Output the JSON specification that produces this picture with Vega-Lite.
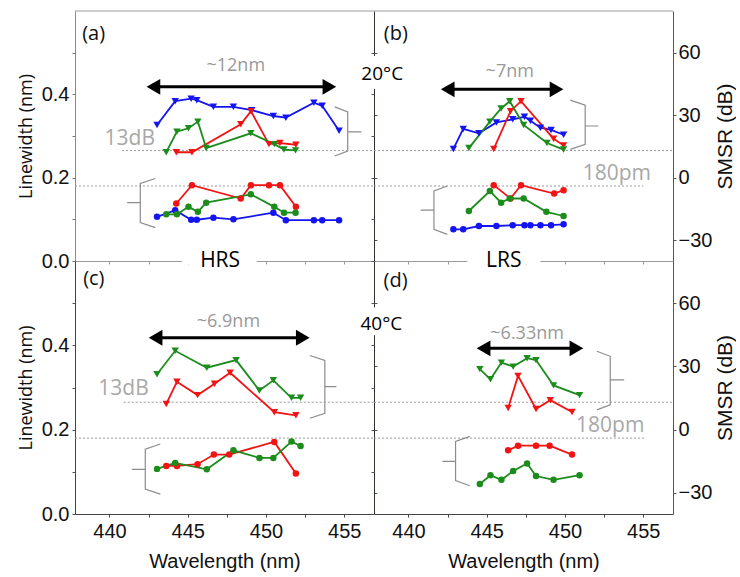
{
 "$schema": "https://vega.github.io/schema/vega-lite/v6.json",
 "padding": {"left": 17, "top": 10, "right": 0, "bottom": 2},
 "background": "white",
 "config": {
  "view": {"stroke": null},
  "axis": {"grid": false, "labelFont": "Liberation Sans", "labelFontSize": 20, "labelColor": "#111", "titleColor": "#111", "titleFontWeight": "normal", "labelFlush": false, "labelOverlap": false},
  "text": {"font": "Open Sans"}
 },
 "datasets": {
  "pts": [
   {"p":"a","k":"SMSR","s":"blue","x":443.04,"v":25.3},{"p":"a","k":"SMSR","s":"blue","x":444.20,"v":36.7},{"p":"a","k":"SMSR","s":"blue","x":445.22,"v":37.9},{"p":"a","k":"SMSR","s":"blue","x":445.58,"v":37.2},{"p":"a","k":"SMSR","s":"blue","x":446.64,"v":34.0},{"p":"a","k":"SMSR","s":"blue","x":447.92,"v":34.0},{"p":"a","k":"SMSR","s":"blue","x":449.09,"v":32.4},{"p":"a","k":"SMSR","s":"blue","x":450.47,"v":29.6},{"p":"a","k":"SMSR","s":"blue","x":451.27,"v":28.8},{"p":"a","k":"SMSR","s":"blue","x":453.06,"v":36.0},{"p":"a","k":"SMSR","s":"blue","x":453.59,"v":34.5},{"p":"a","k":"SMSR","s":"blue","x":454.67,"v":22.5},
   {"p":"a","k":"SMSR","s":"red","x":444.27,"v":12.2},{"p":"a","k":"SMSR","s":"red","x":445.27,"v":12.2},{"p":"a","k":"SMSR","s":"red","x":448.39,"v":25.6},{"p":"a","k":"SMSR","s":"red","x":449.04,"v":31.9},{"p":"a","k":"SMSR","s":"red","x":450.19,"v":16.1},{"p":"a","k":"SMSR","s":"red","x":450.89,"v":16.6},{"p":"a","k":"SMSR","s":"red","x":451.91,"v":15.8},
   {"p":"a","k":"SMSR","s":"green","x":443.63,"v":12.2},{"p":"a","k":"SMSR","s":"green","x":444.31,"v":22.1},{"p":"a","k":"SMSR","s":"green","x":445.05,"v":23.7},{"p":"a","k":"SMSR","s":"green","x":445.65,"v":26.9},{"p":"a","k":"SMSR","s":"green","x":446.18,"v":14.2},{"p":"a","k":"SMSR","s":"green","x":449.03,"v":21.3},{"p":"a","k":"SMSR","s":"green","x":450.53,"v":16.1},{"p":"a","k":"SMSR","s":"green","x":451.15,"v":13.5},{"p":"a","k":"SMSR","s":"green","x":451.89,"v":13.1},
   {"p":"a","k":"LW","s":"blue","x":443.04,"v":0.106},{"p":"a","k":"LW","s":"blue","x":444.20,"v":0.122},{"p":"a","k":"LW","s":"blue","x":445.22,"v":0.099},{"p":"a","k":"LW","s":"blue","x":445.58,"v":0.099},{"p":"a","k":"LW","s":"blue","x":446.64,"v":0.104},{"p":"a","k":"LW","s":"blue","x":447.92,"v":0.100},{"p":"a","k":"LW","s":"blue","x":450.47,"v":0.116},{"p":"a","k":"LW","s":"blue","x":451.27,"v":0.098},{"p":"a","k":"LW","s":"blue","x":453.06,"v":0.098},{"p":"a","k":"LW","s":"blue","x":453.59,"v":0.098},{"p":"a","k":"LW","s":"blue","x":454.67,"v":0.098},
   {"p":"a","k":"LW","s":"red","x":444.27,"v":0.138},{"p":"a","k":"LW","s":"red","x":445.27,"v":0.182},{"p":"a","k":"LW","s":"red","x":448.39,"v":0.150},{"p":"a","k":"LW","s":"red","x":449.04,"v":0.182},{"p":"a","k":"LW","s":"red","x":450.19,"v":0.182},{"p":"a","k":"LW","s":"red","x":450.89,"v":0.182},{"p":"a","k":"LW","s":"red","x":451.91,"v":0.130},
   {"p":"a","k":"LW","s":"green","x":443.63,"v":0.112},{"p":"a","k":"LW","s":"green","x":444.31,"v":0.112},{"p":"a","k":"LW","s":"green","x":445.05,"v":0.130},{"p":"a","k":"LW","s":"green","x":445.65,"v":0.118},{"p":"a","k":"LW","s":"green","x":446.18,"v":0.140},{"p":"a","k":"LW","s":"green","x":449.03,"v":0.160},{"p":"a","k":"LW","s":"green","x":450.53,"v":0.130},{"p":"a","k":"LW","s":"green","x":451.15,"v":0.116},{"p":"a","k":"LW","s":"green","x":451.89,"v":0.116},
   {"p":"b","k":"SMSR","s":"blue","x":442.87,"v":13.8},{"p":"b","k":"SMSR","s":"blue","x":443.50,"v":23.4},{"p":"b","k":"SMSR","s":"blue","x":444.50,"v":21.3},{"p":"b","k":"SMSR","s":"blue","x":445.62,"v":26.5},{"p":"b","k":"SMSR","s":"blue","x":446.66,"v":28.0},{"p":"b","k":"SMSR","s":"blue","x":447.41,"v":29.2},{"p":"b","k":"SMSR","s":"blue","x":447.79,"v":27.3},{"p":"b","k":"SMSR","s":"blue","x":448.43,"v":24.0},{"p":"b","k":"SMSR","s":"blue","x":449.11,"v":22.9},{"p":"b","k":"SMSR","s":"blue","x":449.91,"v":20.6},
   {"p":"b","k":"SMSR","s":"red","x":445.45,"v":13.8},{"p":"b","k":"SMSR","s":"red","x":446.52,"v":31.9},{"p":"b","k":"SMSR","s":"red","x":447.19,"v":36.7},{"p":"b","k":"SMSR","s":"red","x":449.27,"v":18.7},{"p":"b","k":"SMSR","s":"red","x":449.91,"v":15.5},
   {"p":"b","k":"SMSR","s":"green","x":443.86,"v":14.2},{"p":"b","k":"SMSR","s":"green","x":445.20,"v":26.9},{"p":"b","k":"SMSR","s":"green","x":445.92,"v":33.2},{"p":"b","k":"SMSR","s":"green","x":446.47,"v":36.7},{"p":"b","k":"SMSR","s":"green","x":447.36,"v":25.3},{"p":"b","k":"SMSR","s":"green","x":448.85,"v":16.6},{"p":"b","k":"SMSR","s":"green","x":449.91,"v":13.5},
   {"p":"b","k":"LW","s":"blue","x":442.87,"v":0.076},{"p":"b","k":"LW","s":"blue","x":443.50,"v":0.076},{"p":"b","k":"LW","s":"blue","x":444.50,"v":0.084},{"p":"b","k":"LW","s":"blue","x":445.62,"v":0.084},{"p":"b","k":"LW","s":"blue","x":446.66,"v":0.086},{"p":"b","k":"LW","s":"blue","x":447.41,"v":0.086},{"p":"b","k":"LW","s":"blue","x":447.79,"v":0.086},{"p":"b","k":"LW","s":"blue","x":448.43,"v":0.086},{"p":"b","k":"LW","s":"blue","x":449.11,"v":0.086},{"p":"b","k":"LW","s":"blue","x":449.91,"v":0.088},
   {"p":"b","k":"LW","s":"red","x":445.45,"v":0.182},{"p":"b","k":"LW","s":"red","x":446.52,"v":0.150},{"p":"b","k":"LW","s":"red","x":447.19,"v":0.182},{"p":"b","k":"LW","s":"red","x":449.31,"v":0.162},{"p":"b","k":"LW","s":"red","x":449.91,"v":0.170},
   {"p":"b","k":"LW","s":"green","x":443.86,"v":0.120},{"p":"b","k":"LW","s":"green","x":445.20,"v":0.168},{"p":"b","k":"LW","s":"green","x":445.92,"v":0.140},{"p":"b","k":"LW","s":"green","x":446.47,"v":0.150},{"p":"b","k":"LW","s":"green","x":447.36,"v":0.150},{"p":"b","k":"LW","s":"green","x":448.81,"v":0.118},{"p":"b","k":"LW","s":"green","x":449.91,"v":0.108},
   {"p":"c","k":"SMSR","s":"red","x":443.63,"v":12.2},{"p":"c","k":"SMSR","s":"red","x":444.31,"v":22.7},{"p":"c","k":"SMSR","s":"red","x":445.63,"v":16.4},{"p":"c","k":"SMSR","s":"red","x":446.71,"v":21.8},{"p":"c","k":"SMSR","s":"red","x":447.71,"v":27.0},{"p":"c","k":"SMSR","s":"red","x":450.53,"v":8.3},{"p":"c","k":"SMSR","s":"red","x":451.91,"v":6.8},
   {"p":"c","k":"SMSR","s":"green","x":443.04,"v":26.3},{"p":"c","k":"SMSR","s":"green","x":444.20,"v":37.4},{"p":"c","k":"SMSR","s":"green","x":446.22,"v":29.4},{"p":"c","k":"SMSR","s":"green","x":448.09,"v":33.0},{"p":"c","k":"SMSR","s":"green","x":449.58,"v":18.6},{"p":"c","k":"SMSR","s":"green","x":450.47,"v":23.4},{"p":"c","k":"SMSR","s":"green","x":451.63,"v":15.1},{"p":"c","k":"SMSR","s":"green","x":452.21,"v":15.1},
   {"p":"c","k":"LW","s":"red","x":443.63,"v":0.114},{"p":"c","k":"LW","s":"red","x":444.31,"v":0.114},{"p":"c","k":"LW","s":"red","x":445.63,"v":0.118},{"p":"c","k":"LW","s":"red","x":446.67,"v":0.141},{"p":"c","k":"LW","s":"red","x":447.65,"v":0.141},{"p":"c","k":"LW","s":"red","x":450.53,"v":0.171},{"p":"c","k":"LW","s":"red","x":451.91,"v":0.096},
   {"p":"c","k":"LW","s":"green","x":443.04,"v":0.107},{"p":"c","k":"LW","s":"green","x":444.20,"v":0.121},{"p":"c","k":"LW","s":"green","x":446.22,"v":0.106},{"p":"c","k":"LW","s":"green","x":447.92,"v":0.151},{"p":"c","k":"LW","s":"green","x":449.58,"v":0.133},{"p":"c","k":"LW","s":"green","x":450.47,"v":0.133},{"p":"c","k":"LW","s":"green","x":451.63,"v":0.172},{"p":"c","k":"LW","s":"green","x":452.21,"v":0.161},
   {"p":"d","k":"SMSR","s":"red","x":446.37,"v":10.3},{"p":"d","k":"SMSR","s":"red","x":447.00,"v":25.5},{"p":"d","k":"SMSR","s":"red","x":448.15,"v":9.8},{"p":"d","k":"SMSR","s":"red","x":449.06,"v":14.0},{"p":"d","k":"SMSR","s":"red","x":450.45,"v":8.4},
   {"p":"d","k":"SMSR","s":"green","x":444.56,"v":28.7},{"p":"d","k":"SMSR","s":"green","x":445.24,"v":23.9},{"p":"d","k":"SMSR","s":"green","x":445.94,"v":31.8},{"p":"d","k":"SMSR","s":"green","x":446.69,"v":29.9},{"p":"d","k":"SMSR","s":"green","x":447.58,"v":33.9},{"p":"d","k":"SMSR","s":"green","x":448.15,"v":33.0},{"p":"d","k":"SMSR","s":"green","x":449.27,"v":21.0},{"p":"d","k":"SMSR","s":"green","x":450.93,"v":16.4},
   {"p":"d","k":"LW","s":"red","x":446.37,"v":0.151},{"p":"d","k":"LW","s":"red","x":447.00,"v":0.162},{"p":"d","k":"LW","s":"red","x":448.15,"v":0.162},{"p":"d","k":"LW","s":"red","x":449.02,"v":0.162},{"p":"d","k":"LW","s":"red","x":450.45,"v":0.141},
   {"p":"d","k":"LW","s":"green","x":444.56,"v":0.071},{"p":"d","k":"LW","s":"green","x":445.24,"v":0.092},{"p":"d","k":"LW","s":"green","x":445.94,"v":0.081},{"p":"d","k":"LW","s":"green","x":446.69,"v":0.102},{"p":"d","k":"LW","s":"green","x":447.58,"v":0.120},{"p":"d","k":"LW","s":"green","x":448.15,"v":0.090},{"p":"d","k":"LW","s":"green","x":449.27,"v":0.081},{"p":"d","k":"LW","s":"green","x":450.93,"v":0.092}
  ],
  "brk": [
   {"p":"a","side":"R","o":1,"x":454.39,"y":0.370},{"p":"a","side":"R","o":2,"x":455.22,"y":0.358},{"p":"a","side":"R","o":3,"x":455.22,"y":0.310},{"p":"a","side":"R","o":4,"x":456.10,"y":0.310},{"p":"a","side":"R","o":5,"x":455.22,"y":0.310},{"p":"a","side":"R","o":6,"x":455.22,"y":0.264},{"p":"a","side":"R","o":7,"x":454.39,"y":0.252},
   {"p":"a","side":"L","o":1,"x":442.93,"y":0.198},{"p":"a","side":"L","o":2,"x":441.97,"y":0.186},{"p":"a","side":"L","o":3,"x":441.97,"y":0.140},{"p":"a","side":"L","o":4,"x":441.13,"y":0.140},{"p":"a","side":"L","o":5,"x":441.97,"y":0.140},{"p":"a","side":"L","o":6,"x":441.97,"y":0.092},{"p":"a","side":"L","o":7,"x":442.93,"y":0.080},
   {"p":"b","side":"R","o":1,"x":450.34,"y":0.386},{"p":"b","side":"R","o":2,"x":451.29,"y":0.374},{"p":"b","side":"R","o":3,"x":451.29,"y":0.324},{"p":"b","side":"R","o":4,"x":452.14,"y":0.324},{"p":"b","side":"R","o":5,"x":451.29,"y":0.324},{"p":"b","side":"R","o":6,"x":451.29,"y":0.280},{"p":"b","side":"R","o":7,"x":450.34,"y":0.268},
   {"p":"b","side":"L","o":1,"x":442.48,"y":0.180},{"p":"b","side":"L","o":2,"x":441.63,"y":0.168},{"p":"b","side":"L","o":3,"x":441.63,"y":0.122},{"p":"b","side":"L","o":4,"x":440.78,"y":0.122},{"p":"b","side":"L","o":5,"x":441.63,"y":0.122},{"p":"b","side":"L","o":6,"x":441.63,"y":0.076},{"p":"b","side":"L","o":7,"x":442.48,"y":0.064},
   {"p":"c","side":"R","o":1,"x":452.80,"y":0.376},{"p":"c","side":"R","o":2,"x":453.76,"y":0.364},{"p":"c","side":"R","o":3,"x":453.76,"y":0.302},{"p":"c","side":"R","o":4,"x":454.50,"y":0.302},{"p":"c","side":"R","o":5,"x":453.76,"y":0.302},{"p":"c","side":"R","o":6,"x":453.76,"y":0.239},{"p":"c","side":"R","o":7,"x":452.80,"y":0.227},
   {"p":"c","side":"L","o":1,"x":443.25,"y":0.166},{"p":"c","side":"L","o":2,"x":442.29,"y":0.154},{"p":"c","side":"L","o":3,"x":442.29,"y":0.106},{"p":"c","side":"L","o":4,"x":441.45,"y":0.106},{"p":"c","side":"L","o":5,"x":442.29,"y":0.106},{"p":"c","side":"L","o":6,"x":442.29,"y":0.059},{"p":"c","side":"L","o":7,"x":443.25,"y":0.047},
   {"p":"d","side":"R","o":1,"x":452.04,"y":0.386},{"p":"d","side":"R","o":2,"x":452.89,"y":0.374},{"p":"d","side":"R","o":3,"x":452.89,"y":0.318},{"p":"d","side":"R","o":4,"x":453.78,"y":0.318},{"p":"d","side":"R","o":5,"x":452.89,"y":0.318},{"p":"d","side":"R","o":6,"x":452.89,"y":0.259},{"p":"d","side":"R","o":7,"x":452.04,"y":0.247},
   {"p":"d","side":"L","o":1,"x":443.92,"y":0.184},{"p":"d","side":"L","o":2,"x":443.01,"y":0.172},{"p":"d","side":"L","o":3,"x":443.01,"y":0.125},{"p":"d","side":"L","o":4,"x":442.17,"y":0.125},{"p":"d","side":"L","o":5,"x":443.01,"y":0.125},{"p":"d","side":"L","o":6,"x":443.01,"y":0.079},{"p":"d","side":"L","o":7,"x":443.92,"y":0.067}
  ]
 },
 "columns": 2,
 "spacing": 0,
 "bounds": "flush",
 "concat": [
  {
   "width": 299, "height": 250,
   "layer": [
    {"layer": [
     {"data": {"values": [{}]}, "mark": {"type": "rule", "color": "#9a9a9a", "strokeWidth": 1}, "encoding": {"x": {"datum": 437.8, "type": "quantitative"}, "x2": {"datum": 456.9}, "y": {"datum": 0.6, "type": "quantitative"}}},
     {"data": {"values": [{}]}, "mark": {"type": "rule", "color": "#9a9a9a", "strokeWidth": 1, "strokeDash": [2, 2]}, "encoding": {"x": {"datum": 437.8, "type": "quantitative"}, "x2": {"datum": 456.9}, "y": {"datum": 0.18, "type": "quantitative"}}},
     {"data": {"name": "brk"}, "transform": [{"filter": "datum.p == 'a'"}], "mark": {"type": "line", "color": "#8c8c8c", "strokeWidth": 1.2}, "encoding": {"x": {"field": "x", "type": "quantitative", "scale": {"domain": [437.8, 456.9], "nice": false, "zero": false}}, "y": {"field": "y", "type": "quantitative", "scale": {"domain": [0, 0.6], "nice": false, "zero": false}}, "detail": {"field": "side"}, "order": {"field": "o", "type": "quantitative"}}},
     {"data": {"name": "pts"}, "transform": [{"filter": "datum.p == 'a' && datum.k == 'LW'"}], "mark": {"type": "line", "strokeWidth": 1.8, "point": {"filled": true, "size": 42, "opacity": 1}},
      "encoding": {
       "x": {"field": "x", "type": "quantitative", "scale": {"domain": [437.8, 456.9], "nice": false, "zero": false}, "axis": {"values": [440, 442.5, 445, 447.5, 450, 452.5, 455], "labels": false, "title": null, "tickSize": 3, "domainColor": "#9a9a9a", "tickColor": "#9a9a9a"}},
       "y": {"field": "v", "type": "quantitative", "scale": {"domain": [0, 0.6], "nice": false, "zero": false}, "axis": {"values": [0, 0.1, 0.2, 0.3, 0.4, 0.5], "labelExpr": "round(datum.value*10) % 2 == 0 ? format(datum.value, '.1f') : ''", "title": "Linewidth (nm)", "titleFont": "Open Sans", "titleFontSize": 18, "titlePadding": 6, "labelPadding": 3, "tickSize": 3, "domainColor": "#8a8a8a", "tickColor": "#777"}},
       "color": {"field": "s", "type": "nominal", "scale": {"domain": ["blue", "red", "green"], "range": ["#1414f0", "#f01414", "#1c8c1c"]}, "legend": null}
      }},
     {"data": {"values": [{}]}, "mark": {"type": "rule", "color": "#000", "strokeWidth": 3}, "encoding": {"x": {"datum": 442.81, "type": "quantitative"}, "x2": {"datum": 454.05}, "y": {"datum": 0.418, "type": "quantitative"}}},
     {"data": {"values": [{}]}, "mark": {"type": "point", "shape": "triangle-left", "filled": true, "size": 250, "color": "#000", "opacity": 1}, "encoding": {"x": {"datum": 442.81, "type": "quantitative"}, "y": {"datum": 0.418, "type": "quantitative"}}},
     {"data": {"values": [{}]}, "mark": {"type": "point", "shape": "triangle-right", "filled": true, "size": 250, "color": "#000", "opacity": 1}, "encoding": {"x": {"datum": 454.05, "type": "quantitative"}, "y": {"datum": 0.418, "type": "quantitative"}}},
     {"data": {"values": [{}]}, "mark": {"type": "text", "text": "(a)", "fontSize": 20, "align": "left", "baseline": "middle", "color": "#111"}, "encoding": {"x": {"datum": 438.26, "type": "quantitative"}, "y": {"datum": 0.545, "type": "quantitative"}}},
     {"data": {"values": [{}]}, "mark": {"type": "text", "text": "~12nm", "fontSize": 18, "align": "center", "baseline": "middle", "color": "#999"}, "encoding": {"x": {"datum": 448.07, "type": "quantitative"}, "y": {"datum": 0.468, "type": "quantitative"}}},
     {"data": {"values": [{}]}, "mark": {"type": "text", "text": "13dB", "fontSize": 21, "align": "center", "baseline": "middle", "color": "#a8a8a8"}, "encoding": {"x": {"datum": 441.3, "type": "quantitative"}, "y": {"datum": 0.292, "type": "quantitative"}}}
    ]},
    {"layer": [
     {"data": {"values": [{}]}, "mark": {"type": "rule", "color": "#9a9a9a", "strokeWidth": 1, "strokeDash": [2, 2]}, "encoding": {"x": {"datum": 440.8, "type": "quantitative"}, "x2": {"datum": 456.9}, "y": {"datum": 13, "type": "quantitative"}}},
     {"data": {"name": "pts"}, "transform": [{"filter": "datum.p == 'a' && datum.k == 'SMSR'"}], "mark": {"type": "line", "strokeWidth": 1.8, "point": {"filled": true, "size": 55, "shape": "triangle-down", "opacity": 1}},
      "encoding": {
       "x": {"field": "x", "type": "quantitative", "scale": {"domain": [437.8, 456.9], "nice": false, "zero": false}},
       "y": {"field": "v", "type": "quantitative", "scale": {"domain": [-40, 80], "nice": false, "zero": false}, "axis": {"orient": "right", "values": [-30, -15, 0, 15, 30, 45, 60, 75], "labels": false, "title": null, "tickSize": 3, "domainColor": "#2b332b", "tickColor": "#555"}},
       "color": {"field": "s", "type": "nominal", "scale": {"domain": ["blue", "red", "green"], "range": ["#1414f0", "#f01414", "#1c8c1c"]}, "legend": null}
      }}
    ]}
   ],
   "resolve": {"scale": {"y": "independent"}}
  },
  {
   "width": 299, "height": 250,
   "layer": [
    {"layer": [
     {"data": {"values": [{}]}, "mark": {"type": "rule", "color": "#9a9a9a", "strokeWidth": 1}, "encoding": {"x": {"datum": 437.8, "type": "quantitative"}, "x2": {"datum": 456.9}, "y": {"datum": 0.6, "type": "quantitative"}}},
     {"data": {"values": [{}]}, "mark": {"type": "rule", "color": "#9a9a9a", "strokeWidth": 1, "strokeDash": [2, 2]}, "encoding": {"x": {"datum": 437.8, "type": "quantitative"}, "x2": {"datum": 455.0}, "y": {"datum": 0.18, "type": "quantitative"}}},
     {"data": {"name": "brk"}, "transform": [{"filter": "datum.p == 'b'"}], "mark": {"type": "line", "color": "#8c8c8c", "strokeWidth": 1.2}, "encoding": {"x": {"field": "x", "type": "quantitative", "scale": {"domain": [437.8, 456.9], "nice": false, "zero": false}}, "y": {"field": "y", "type": "quantitative", "scale": {"domain": [0, 0.6], "nice": false, "zero": false}}, "detail": {"field": "side"}, "order": {"field": "o", "type": "quantitative"}}},
     {"data": {"name": "pts"}, "transform": [{"filter": "datum.p == 'b' && datum.k == 'LW'"}], "mark": {"type": "line", "strokeWidth": 1.8, "point": {"filled": true, "size": 42, "opacity": 1}},
      "encoding": {
       "x": {"field": "x", "type": "quantitative", "scale": {"domain": [437.8, 456.9], "nice": false, "zero": false}, "axis": {"values": [440, 442.5, 445, 447.5, 450, 452.5, 455], "labels": false, "title": null, "tickSize": 3, "domainColor": "#9a9a9a", "tickColor": "#9a9a9a"}},
       "y": {"field": "v", "type": "quantitative", "scale": {"domain": [0, 0.6], "nice": false, "zero": false}, "axis": {"orient": "left", "values": [0, 0.1, 0.2, 0.3, 0.4, 0.5], "labels": false, "title": null, "domain": false, "tickSize": 3, "tickColor": "#555"}},
       "color": {"field": "s", "type": "nominal", "scale": {"domain": ["blue", "red", "green"], "range": ["#1414f0", "#f01414", "#1c8c1c"]}, "legend": null}
      }},
     {"data": {"values": [{}]}, "mark": {"type": "rule", "color": "#000", "strokeWidth": 3}, "encoding": {"x": {"datum": 442.51, "type": "quantitative"}, "x2": {"datum": 449.46}, "y": {"datum": 0.412, "type": "quantitative"}}},
     {"data": {"values": [{}]}, "mark": {"type": "point", "shape": "triangle-left", "filled": true, "size": 250, "color": "#000", "opacity": 1}, "encoding": {"x": {"datum": 442.51, "type": "quantitative"}, "y": {"datum": 0.412, "type": "quantitative"}}},
     {"data": {"values": [{}]}, "mark": {"type": "point", "shape": "triangle-right", "filled": true, "size": 250, "color": "#000", "opacity": 1}, "encoding": {"x": {"datum": 449.46, "type": "quantitative"}, "y": {"datum": 0.412, "type": "quantitative"}}},
     {"data": {"values": [{}]}, "mark": {"type": "text", "text": "(b)", "fontSize": 20, "align": "left", "baseline": "middle", "color": "#111"}, "encoding": {"x": {"datum": 438.43, "type": "quantitative"}, "y": {"datum": 0.545, "type": "quantitative"}}},
     {"data": {"values": [{}]}, "mark": {"type": "text", "text": "~7nm", "fontSize": 18, "align": "center", "baseline": "middle", "color": "#999"}, "encoding": {"x": {"datum": 446.47, "type": "quantitative"}, "y": {"datum": 0.454, "type": "quantitative"}}},
     {"data": {"values": [{}]}, "mark": {"type": "text", "text": "180pm", "fontSize": 21, "align": "center", "baseline": "middle", "color": "#a8a8a8"}, "encoding": {"x": {"datum": 453.31, "type": "quantitative"}, "y": {"datum": 0.208, "type": "quantitative"}}},
     {"data": {"values": [{}]}, "mark": {"type": "rect", "color": "white"}, "encoding": {"x": {"datum": 437.5, "type": "quantitative"}, "x2": {"datum": 438.15}, "y": {"datum": 0.413, "type": "quantitative"}, "y2": {"datum": 0.492}}},
     {"data": {"values": [{}]}, "mark": {"type": "text", "text": "20°C", "fontSize": 19, "align": "center", "baseline": "middle", "color": "#000"}, "encoding": {"x": {"datum": 438.33, "type": "quantitative"}, "y": {"datum": 0.449, "type": "quantitative"}}}
    ]},
    {"layer": [
     {"data": {"values": [{}]}, "mark": {"type": "rule", "color": "#9a9a9a", "strokeWidth": 1, "strokeDash": [2, 2]}, "encoding": {"x": {"datum": 437.8, "type": "quantitative"}, "x2": {"datum": 456.9}, "y": {"datum": 13, "type": "quantitative"}}},
     {"data": {"name": "pts"}, "transform": [{"filter": "datum.p == 'b' && datum.k == 'SMSR'"}], "mark": {"type": "line", "strokeWidth": 1.8, "point": {"filled": true, "size": 55, "shape": "triangle-down", "opacity": 1}},
      "encoding": {
       "x": {"field": "x", "type": "quantitative", "scale": {"domain": [437.8, 456.9], "nice": false, "zero": false}},
       "y": {"field": "v", "type": "quantitative", "scale": {"domain": [-40, 80], "nice": false, "zero": false}, "axis": {"orient": "right", "values": [-30, -15, 0, 15, 30, 45, 60, 75], "labelExpr": "datum.value % 30 == 0 ? datum.label : ''", "title": "SMSR (dB)", "titleFont": "Liberation Sans", "titleFontSize": 21, "titleAngle": 270, "titleBaseline": "top", "titlePadding": 3, "labelPadding": 2, "tickSize": 3, "domainColor": "#555", "tickColor": "#555"}},
       "color": {"field": "s", "type": "nominal", "scale": {"domain": ["blue", "red", "green"], "range": ["#1414f0", "#f01414", "#1c8c1c"]}, "legend": null}
      }}
    ]}
   ],
   "resolve": {"scale": {"y": "independent"}}
  },
  {
   "width": 299, "height": 253,
   "layer": [
    {"layer": [
     {"data": {"values": [{}]}, "mark": {"type": "rule", "color": "#9a9a9a", "strokeWidth": 1, "strokeDash": [2, 2]}, "encoding": {"x": {"datum": 437.8, "type": "quantitative"}, "x2": {"datum": 456.9}, "y": {"datum": 0.18, "type": "quantitative"}}},
     {"data": {"name": "brk"}, "transform": [{"filter": "datum.p == 'c'"}], "mark": {"type": "line", "color": "#8c8c8c", "strokeWidth": 1.2}, "encoding": {"x": {"field": "x", "type": "quantitative", "scale": {"domain": [437.8, 456.9], "nice": false, "zero": false}}, "y": {"field": "y", "type": "quantitative", "scale": {"domain": [0, 0.6], "nice": false, "zero": false}}, "detail": {"field": "side"}, "order": {"field": "o", "type": "quantitative"}}},
     {"data": {"name": "pts"}, "transform": [{"filter": "datum.p == 'c' && datum.k == 'LW'"}], "mark": {"type": "line", "strokeWidth": 1.8, "point": {"filled": true, "size": 42, "opacity": 1}},
      "encoding": {
       "x": {"field": "x", "type": "quantitative", "scale": {"domain": [437.8, 456.9], "nice": false, "zero": false}, "axis": {"values": [440, 442.5, 445, 447.5, 450, 452.5, 455], "labelExpr": "datum.value % 5 == 0 ? datum.label : ''", "title": "Wavelength (nm)", "titleFont": "Liberation Sans", "titleFontSize": 20, "titlePadding": 10, "labelPadding": 4, "tickSize": 3, "domainColor": "#444", "tickColor": "#444"}},
       "y": {"field": "v", "type": "quantitative", "scale": {"domain": [0, 0.6], "nice": false, "zero": false}, "axis": {"values": [0, 0.1, 0.2, 0.3, 0.4, 0.5], "labelExpr": "round(datum.value*10) % 2 == 0 ? format(datum.value, '.1f') : ''", "title": "Linewidth (nm)", "titleFont": "Open Sans", "titleFontSize": 18, "titlePadding": 6, "labelPadding": 3, "tickSize": 3, "domainColor": "#444", "tickColor": "#555"}},
       "color": {"field": "s", "type": "nominal", "scale": {"domain": ["blue", "red", "green"], "range": ["#1414f0", "#f01414", "#1c8c1c"]}, "legend": null}
      }},
     {"data": {"values": [{}]}, "mark": {"type": "rule", "color": "#000", "strokeWidth": 3}, "encoding": {"x": {"datum": 442.95, "type": "quantitative"}, "x2": {"datum": 452.35}, "y": {"datum": 0.418, "type": "quantitative"}}},
     {"data": {"values": [{}]}, "mark": {"type": "point", "shape": "triangle-left", "filled": true, "size": 250, "color": "#000", "opacity": 1}, "encoding": {"x": {"datum": 442.95, "type": "quantitative"}, "y": {"datum": 0.418, "type": "quantitative"}}},
     {"data": {"values": [{}]}, "mark": {"type": "point", "shape": "triangle-right", "filled": true, "size": 250, "color": "#000", "opacity": 1}, "encoding": {"x": {"datum": 452.35, "type": "quantitative"}, "y": {"datum": 0.418, "type": "quantitative"}}},
     {"data": {"values": [{}]}, "mark": {"type": "text", "text": "(c)", "fontSize": 20, "align": "left", "baseline": "middle", "color": "#111"}, "encoding": {"x": {"datum": 438.32, "type": "quantitative"}, "y": {"datum": 0.557, "type": "quantitative"}}},
     {"data": {"values": [{}]}, "mark": {"type": "text", "text": "~6.9nm", "fontSize": 18, "align": "center", "baseline": "middle", "color": "#999"}, "encoding": {"x": {"datum": 447.6, "type": "quantitative"}, "y": {"datum": 0.455, "type": "quantitative"}}},
     {"data": {"values": [{}]}, "mark": {"type": "text", "text": "13dB", "fontSize": 21, "align": "center", "baseline": "middle", "color": "#a8a8a8"}, "encoding": {"x": {"datum": 440.9, "type": "quantitative"}, "y": {"datum": 0.296, "type": "quantitative"}}},
     {"data": {"values": [{}]}, "mark": {"type": "rect", "color": "white"}, "encoding": {"x": {"datum": 444.63, "type": "quantitative"}, "x2": {"datum": 449.41}, "y": {"datum": 0.592, "type": "quantitative"}, "y2": {"datum": 0.61}}},
     {"data": {"values": [{}]}, "mark": {"type": "text", "text": "HRS", "fontSize": 21, "align": "center", "baseline": "middle", "color": "#000"}, "encoding": {"x": {"datum": 447.07, "type": "quantitative"}, "y": {"datum": 0.6, "type": "quantitative"}}}
    ]},
    {"layer": [
     {"data": {"values": [{}]}, "mark": {"type": "rule", "color": "#9a9a9a", "strokeWidth": 1, "strokeDash": [2, 2]}, "encoding": {"x": {"datum": 440.91, "type": "quantitative"}, "x2": {"datum": 456.9}, "y": {"datum": 13, "type": "quantitative"}}},
     {"data": {"name": "pts"}, "transform": [{"filter": "datum.p == 'c' && datum.k == 'SMSR'"}], "mark": {"type": "line", "strokeWidth": 1.8, "point": {"filled": true, "size": 55, "shape": "triangle-down", "opacity": 1}},
      "encoding": {
       "x": {"field": "x", "type": "quantitative", "scale": {"domain": [437.8, 456.9], "nice": false, "zero": false}},
       "y": {"field": "v", "type": "quantitative", "scale": {"domain": [-40, 80], "nice": false, "zero": false}, "axis": {"orient": "right", "values": [-30, -15, 0, 15, 30, 45, 60, 75], "labels": false, "title": null, "tickSize": 3, "domainColor": "#2b332b", "tickColor": "#555"}},
       "color": {"field": "s", "type": "nominal", "scale": {"domain": ["blue", "red", "green"], "range": ["#1414f0", "#f01414", "#1c8c1c"]}, "legend": null}
      }}
    ]}
   ],
   "resolve": {"scale": {"y": "independent"}}
  },
  {
   "width": 299, "height": 253,
   "layer": [
    {"layer": [
     {"data": {"values": [{}]}, "mark": {"type": "rule", "color": "#9a9a9a", "strokeWidth": 1, "strokeDash": [2, 2]}, "encoding": {"x": {"datum": 437.8, "type": "quantitative"}, "x2": {"datum": 455.1}, "y": {"datum": 0.18, "type": "quantitative"}}},
     {"data": {"name": "brk"}, "transform": [{"filter": "datum.p == 'd'"}], "mark": {"type": "line", "color": "#8c8c8c", "strokeWidth": 1.2}, "encoding": {"x": {"field": "x", "type": "quantitative", "scale": {"domain": [437.8, 456.9], "nice": false, "zero": false}}, "y": {"field": "y", "type": "quantitative", "scale": {"domain": [0, 0.6], "nice": false, "zero": false}}, "detail": {"field": "side"}, "order": {"field": "o", "type": "quantitative"}}},
     {"data": {"name": "pts"}, "transform": [{"filter": "datum.p == 'd' && datum.k == 'LW'"}], "mark": {"type": "line", "strokeWidth": 1.8, "point": {"filled": true, "size": 42, "opacity": 1}},
      "encoding": {
       "x": {"field": "x", "type": "quantitative", "scale": {"domain": [437.8, 456.9], "nice": false, "zero": false}, "axis": {"values": [440, 442.5, 445, 447.5, 450, 452.5, 455], "labelExpr": "datum.value % 5 == 0 ? datum.label : ''", "title": "Wavelength (nm)", "titleFont": "Liberation Sans", "titleFontSize": 20, "titlePadding": 10, "labelPadding": 4, "tickSize": 3, "domainColor": "#444", "tickColor": "#444"}},
       "y": {"field": "v", "type": "quantitative", "scale": {"domain": [0, 0.6], "nice": false, "zero": false}, "axis": {"orient": "left", "values": [0, 0.1, 0.2, 0.3, 0.4, 0.5], "labels": false, "title": null, "domain": false, "tickSize": 3, "tickColor": "#555"}},
       "color": {"field": "s", "type": "nominal", "scale": {"domain": ["blue", "red", "green"], "range": ["#1414f0", "#f01414", "#1c8c1c"]}, "legend": null}
      }},
     {"data": {"values": [{}]}, "mark": {"type": "rule", "color": "#000", "strokeWidth": 3}, "encoding": {"x": {"datum": 444.8, "type": "quantitative"}, "x2": {"datum": 450.73}, "y": {"datum": 0.393, "type": "quantitative"}}},
     {"data": {"values": [{}]}, "mark": {"type": "point", "shape": "triangle-left", "filled": true, "size": 250, "color": "#000", "opacity": 1}, "encoding": {"x": {"datum": 444.8, "type": "quantitative"}, "y": {"datum": 0.393, "type": "quantitative"}}},
     {"data": {"values": [{}]}, "mark": {"type": "point", "shape": "triangle-right", "filled": true, "size": 250, "color": "#000", "opacity": 1}, "encoding": {"x": {"datum": 450.73, "type": "quantitative"}, "y": {"datum": 0.393, "type": "quantitative"}}},
     {"data": {"values": [{}]}, "mark": {"type": "text", "text": "(d)", "fontSize": 20, "align": "left", "baseline": "middle", "color": "#111"}, "encoding": {"x": {"datum": 438.41, "type": "quantitative"}, "y": {"datum": 0.553, "type": "quantitative"}}},
     {"data": {"values": [{}]}, "mark": {"type": "text", "text": "~6.33nm", "fontSize": 18, "align": "center", "baseline": "middle", "color": "#999"}, "encoding": {"x": {"datum": 447.58, "type": "quantitative"}, "y": {"datum": 0.428, "type": "quantitative"}}},
     {"data": {"values": [{}]}, "mark": {"type": "text", "text": "180pm", "fontSize": 21, "align": "center", "baseline": "middle", "color": "#a8a8a8"}, "encoding": {"x": {"datum": 452.89, "type": "quantitative"}, "y": {"datum": 0.208, "type": "quantitative"}}},
     {"data": {"values": [{}]}, "mark": {"type": "rect", "color": "white"}, "encoding": {"x": {"datum": 437.5, "type": "quantitative"}, "x2": {"datum": 438.15}, "y": {"datum": 0.424, "type": "quantitative"}, "y2": {"datum": 0.49}}},
     {"data": {"values": [{}]}, "mark": {"type": "text", "text": "40°C", "fontSize": 19, "align": "center", "baseline": "middle", "color": "#000"}, "encoding": {"x": {"datum": 438.27, "type": "quantitative"}, "y": {"datum": 0.451, "type": "quantitative"}}},
     {"data": {"values": [{}]}, "mark": {"type": "rect", "color": "white"}, "encoding": {"x": {"datum": 443.76, "type": "quantitative"}, "x2": {"datum": 448.43}, "y": {"datum": 0.592, "type": "quantitative"}, "y2": {"datum": 0.61}}},
     {"data": {"values": [{}]}, "mark": {"type": "text", "text": "LRS", "fontSize": 21, "align": "center", "baseline": "middle", "color": "#000"}, "encoding": {"x": {"datum": 446.09, "type": "quantitative"}, "y": {"datum": 0.6, "type": "quantitative"}}}
    ]},
    {"layer": [
     {"data": {"values": [{}]}, "mark": {"type": "rule", "color": "#9a9a9a", "strokeWidth": 1, "strokeDash": [2, 2]}, "encoding": {"x": {"datum": 437.8, "type": "quantitative"}, "x2": {"datum": 456.9}, "y": {"datum": 13, "type": "quantitative"}}},
     {"data": {"name": "pts"}, "transform": [{"filter": "datum.p == 'd' && datum.k == 'SMSR'"}], "mark": {"type": "line", "strokeWidth": 1.8, "point": {"filled": true, "size": 55, "shape": "triangle-down", "opacity": 1}},
      "encoding": {
       "x": {"field": "x", "type": "quantitative", "scale": {"domain": [437.8, 456.9], "nice": false, "zero": false}},
       "y": {"field": "v", "type": "quantitative", "scale": {"domain": [-40, 80], "nice": false, "zero": false}, "axis": {"orient": "right", "values": [-30, -15, 0, 15, 30, 45, 60, 75], "labelExpr": "datum.value % 30 == 0 ? datum.label : ''", "title": "SMSR (dB)", "titleFont": "Liberation Sans", "titleFontSize": 21, "titleAngle": 270, "titleBaseline": "top", "titlePadding": 3, "labelPadding": 2, "tickSize": 3, "domainColor": "#555", "tickColor": "#555"}},
       "color": {"field": "s", "type": "nominal", "scale": {"domain": ["blue", "red", "green"], "range": ["#1414f0", "#f01414", "#1c8c1c"]}, "legend": null}
      }}
    ]}
   ],
   "resolve": {"scale": {"y": "independent"}}
  }
 ]
}
